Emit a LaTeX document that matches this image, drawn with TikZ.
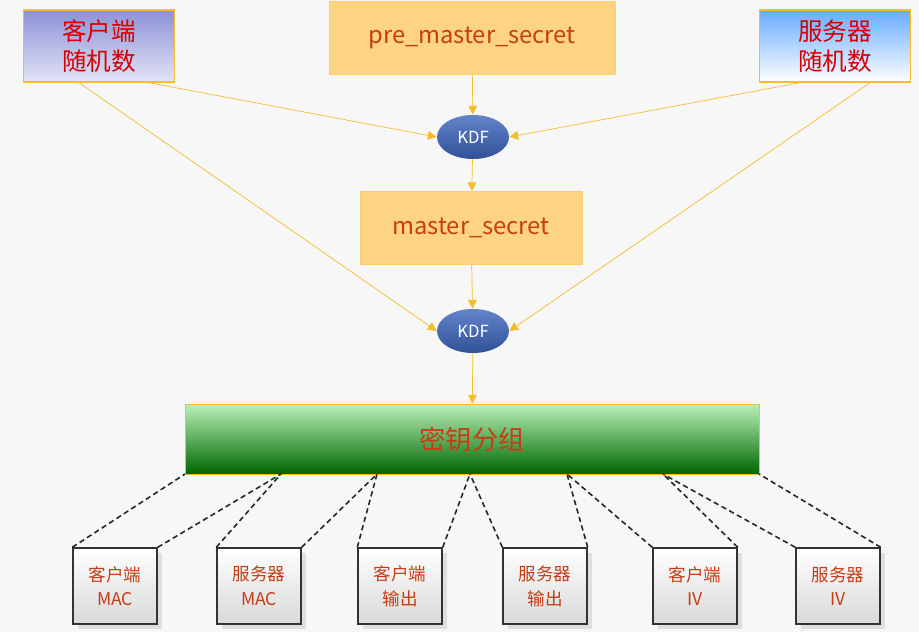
\documentclass[tikz,border=0pt]{standalone}
\usepackage{fontspec}
\setmainfont{Noto Sans CJK SC}
\usetikzlibrary{shapes.geometric,arrows.meta,shadows}
\definecolor{txt}{RGB}{200,60,20}
\definecolor{gold}{RGB}{245,190,40}
\definecolor{org}{RGB}{253,212,130}
\definecolor{lav}{RGB}{140,145,215}
\definecolor{kb}{RGB}{60,100,190}
\begin{document}
\begin{tikzpicture}[x=0.02cm,y=-0.02cm,
  rnd/.style={draw=gold,thick,minimum width=151*0.02cm,minimum height=72*0.02cm,
    top color=lav,bottom color=lav!25!white,text=red!85!black,
    font=\fontsize{14}{17}\selectfont,align=center,inner sep=0pt},
  sec/.style={draw=gold!70,fill=org,text=txt,font=\fontsize{13.5}{16}\selectfont,
    minimum height=73*0.02cm,inner sep=0pt},
  kdf/.style={ellipse,top color=kb!80!white,bottom color=kb!80!black,text=white,
    minimum width=72*0.02cm,minimum height=44*0.02cm,inner sep=0pt,font=\fontsize{9.5}{11}\selectfont},
  outbox/.style={draw=black!80,thick,top color=white,bottom color=black!15,text=txt,
    minimum width=84*0.02cm,minimum height=76*0.02cm,align=center,inner sep=0pt,
    font=\fontsize{10}{14}\selectfont,drop shadow={opacity=0.2}},
  arr/.style={draw=gold,-{Triangle[length=5pt,width=5pt]}},
  dl/.style={dashed,dash pattern=on 3pt off 2pt,line width=0.9pt,black!85}]
\fill[black!3] (0,0) rectangle (919,632);
\node[rnd] (cr) at (99,46) {客户端\\随机数};
\node[rnd,top color=blue!55!cyan!60,bottom color=white] (sr) at (835,46) {服务器\\随机数};
\node[sec,minimum width=286*0.02cm] (pms) at (472,38) {pre\_master\_secret};
\node[kdf] (k1) at (473,137) {KDF};
\node[sec,minimum width=222*0.02cm] (ms) at (471,228) {master\_secret};
\node[kdf] (k2) at (473,331) {KDF};
\node[draw=gold,top color=green!25!white!90!gray,bottom color=green!40!black,text=txt,
  minimum width=574*0.02cm,minimum height=70*0.02cm,font=\fontsize{15}{18}\selectfont]
  (kg) at (472,439) {密钥分组};
\draw[arr] (pms) -- (k1);
\draw[arr] (k1) -- (ms);
\draw[arr] (ms) -- (k2);
\draw[arr] (k2) -- (kg);
\draw[arr] ([xshift=1cm]cr.south) -- (k1.west);
\draw[arr] ([xshift=-0.4cm]cr.south) -- (k2.west);
\draw[arr] ([xshift=-0.7cm]sr.south) -- (k1.east);
\draw[arr] ([xshift=0.7cm]sr.south) -- (k2.east);
\foreach \n/\x/\lbl in {o1/115/客户端\\MAC,o2/259/服务器\\MAC,o3/400/客户端\\输出,
    o4/545/服务器\\输出,o5/695/客户端\\IV,o6/838/服务器\\IV}
  \node[outbox] (\n) at (\x,586) {\lbl};
\foreach \i/\a/\b in {1/185/281,2/281/377,3/377/470,4/470/567,5/567/663,6/663/759}{
  \coordinate (pa\i) at (\a,474);
  \coordinate (pb\i) at (\b,474);
  \draw[dl] (o\i.north west) -- (pa\i);
  \draw[dl] (o\i.north east) -- (pb\i);
}
\end{tikzpicture}
\end{document}
